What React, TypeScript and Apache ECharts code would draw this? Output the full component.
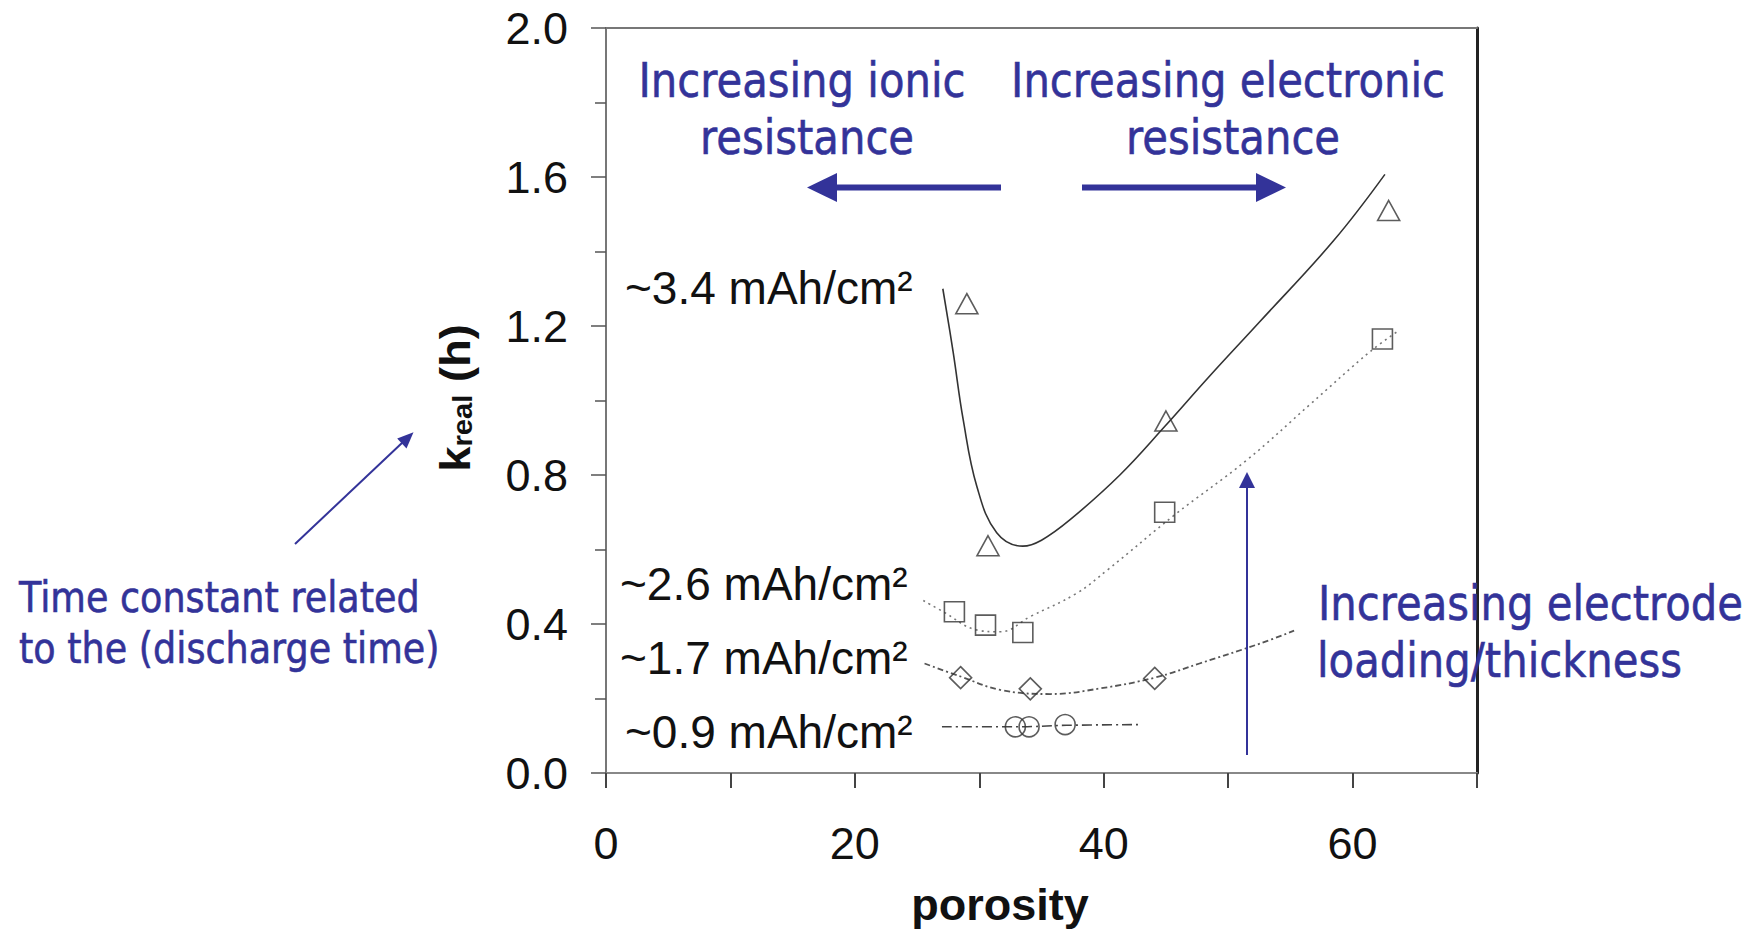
import React, { useEffect, useRef } from "react";
import * as echarts from "echarts";

// ---- tick labels ----
const xTickLabels = ["0", "20", "40", "60"];
const yTickLabels = ["0.0", "0.4", "0.8", "1.2", "1.6", "2.0"];

// ---- measured points (porosity, k_real) ----
const pts34: number[][] = [[29.0, 1.26], [30.7, 0.61], [45.0, 0.945], [62.9, 1.51]];
const pts26: number[][] = [[28.0, 0.433], [30.5, 0.397], [33.5, 0.377], [44.9, 0.70], [62.4, 1.165]];
const pts17: number[][] = [[28.5, 0.256], [34.1, 0.226], [44.1, 0.254]];
const pts09: number[][] = [[32.9, 0.124], [34.0, 0.124], [36.9, 0.13]];

// ---- fitted curves ----
const fit34: number[][] = [
  [27.07, 1.3], [27.9, 1.13], [28.7, 0.95], [29.8, 0.77], [31.4, 0.645], [33.5, 0.609],
  [35.0, 0.625], [37.3, 0.68], [41.3, 0.8], [44.9, 0.93], [48.5, 1.065], [52.5, 1.21], [58.5, 1.43], [62.6, 1.607],
];
const fit26: number[][] = [
  [25.5, 0.463], [27.1, 0.433], [29.8, 0.384], [31.7, 0.379], [34.1, 0.42], [37.8, 0.482],
  [40.3, 0.545], [45.7, 0.693], [51.5, 0.84], [56.6, 0.99], [61.4, 1.131], [63.6, 1.185],
];
const fit17: number[][] = [
  [25.6, 0.294], [28.5, 0.259], [31.7, 0.223], [35.7, 0.212], [39.7, 0.227], [44.1, 0.256],
  [47.7, 0.294], [52.6, 0.348], [55.3, 0.382],
];
const fit09: number[][] = [[27.0, 0.124], [33.0, 0.124], [37.0, 0.128], [42.8, 0.13]];

const loadingLabels = ["~3.4 mAh/cm²", "~2.6 mAh/cm²", "~1.7 mAh/cm²", "~0.9 mAh/cm²"];

const BLACK_FONT = "'Liberation Sans', Arial, Helvetica, sans-serif";
const BLUE_FONT = "'DejaVu Sans', Verdana, sans-serif";
const BLUE = "#333399";

function blueText(text: string, x: number, y: number, size: number, align: string) {
  return {
    type: "text",
    x,
    y,
    scaleX: 0.87,
    style: {
      text,
      fill: BLUE,
      stroke: BLUE,
      lineWidth: 0.6,
      font: `${size}px ${BLUE_FONT}`,
      textAlign: align,
      textVerticalAlign: "middle",
    },
    z: 100,
  };
}

function blackText(text: string, x: number, y: number) {
  return {
    type: "text",
    x,
    y,
    style: {
      text,
      fill: "#111",
      font: `46px ${BLACK_FONT}`,
      textAlign: "left",
      textVerticalAlign: "middle",
    },
    z: 100,
  };
}

export default function App() {
  const ref = useRef<HTMLDivElement>(null);

  useEffect(() => {
    if (!ref.current) return;
    const chart = echarts.init(ref.current, null, { renderer: "svg" });

    const markerStyle = { color: "rgba(0,0,0,0)", borderColor: "#333", borderWidth: 1.6 };

    const option: any = {
      animation: false,
      backgroundColor: "#fff",
      grid: { left: 606, top: 28, width: 871, height: 745 },
      xAxis: [
        {
          type: "value",
          min: 0,
          max: 70,
          interval: 10,
          position: "bottom",
          axisLine: { show: true, onZero: false, lineStyle: { color: "#888", width: 2 } },
          axisTick: { show: true, length: 15, lineStyle: { color: "#444", width: 2 } },
          axisLabel: {
            margin: 48,
            fontSize: 45,
            color: "#111",
            fontFamily: BLACK_FONT,
            formatter: (v: number) => (xTickLabels.includes(String(v)) ? String(v) : ""),
          },
          splitLine: { show: false },
        },
        {
          type: "value",
          min: 0,
          max: 70,
          position: "top",
          axisLine: { show: true, onZero: false, lineStyle: { color: "#777", width: 2 } },
          axisTick: { show: false },
          axisLabel: { show: false },
          splitLine: { show: false },
        },
      ],
      yAxis: [
        {
          type: "value",
          min: 0,
          max: 2,
          interval: 0.4,
          position: "left",
          axisLine: { show: true, onZero: false, lineStyle: { color: "#777", width: 2 } },
          axisTick: { show: true, length: 15, lineStyle: { color: "#555", width: 1.5 } },
          minorTick: { show: true, splitNumber: 2, length: 11, lineStyle: { color: "#555", width: 1.5 } },
          axisLabel: {
            margin: 38,
            fontSize: 45,
            color: "#111",
            fontFamily: BLACK_FONT,
            formatter: (v: number) => yTickLabels[Math.round(v / 0.4)] ?? "",
          },
          splitLine: { show: false },
          minorSplitLine: { show: false },
        },
        {
          type: "value",
          min: 0,
          max: 2,
          position: "right",
          axisLine: { show: true, onZero: false, lineStyle: { color: "#222", width: 3 } },
          axisTick: { show: false },
          axisLabel: { show: false },
          splitLine: { show: false },
        },
      ],
      series: [
        { type: "line", data: fit34, smooth: 0.4, showSymbol: false, lineStyle: { color: "#333", width: 1.6, type: "solid" }, z: 2 },
        { type: "line", data: fit26, smooth: 0.4, showSymbol: false, lineStyle: { color: "#777", width: 1.6, type: [2, 4] }, z: 2 },
        { type: "line", data: fit17, smooth: 0.4, showSymbol: false, lineStyle: { color: "#555", width: 1.8, type: [6, 3, 2, 3] }, z: 2 },
        { type: "line", data: fit09, smooth: 0.4, showSymbol: false, lineStyle: { color: "#444", width: 1.6, type: [10, 4, 2, 4] }, z: 2 },
        { type: "scatter", data: pts34, symbol: "triangle", symbolSize: [22, 20], itemStyle: markerStyle, z: 3 },
        { type: "scatter", data: pts26, symbol: "rect", symbolSize: [20, 20], itemStyle: markerStyle, z: 3 },
        { type: "scatter", data: pts17, symbol: "diamond", symbolSize: [22, 22], itemStyle: markerStyle, z: 3 },
        { type: "scatter", data: pts09, symbol: "circle", symbolSize: 20, itemStyle: markerStyle, z: 3 },
      ],
      graphic: [
        // loading labels
        blackText(loadingLabels[0], 625, 288),
        blackText(loadingLabels[1], 620, 584),
        blackText(loadingLabels[2], 620, 658),
        blackText(loadingLabels[3], 625, 732),
        // axis names
        {
          type: "text",
          x: 1000,
          y: 904,
          style: { text: "porosity", fill: "#111", font: `bold 45px ${BLACK_FONT}`, textAlign: "center", textVerticalAlign: "middle" },
        },
        {
          type: "text",
          x: 455,
          y: 398,
          rotation: Math.PI / 2,
          scaleX: 1.08,
          style: {
            text: "{a|k}{b|real}{a| (h)}",
            fill: "#111",
            textAlign: "center",
            textVerticalAlign: "middle",
            rich: {
              a: { fontSize: 42, fontWeight: "bold", fontFamily: BLACK_FONT, fill: "#111", lineHeight: 42, verticalAlign: "bottom" },
              b: { fontSize: 27, fontWeight: "bold", fontFamily: BLACK_FONT, fill: "#111", lineHeight: 22, verticalAlign: "bottom" },
            },
          },
        },
        // blue annotations
        blueText("Increasing ionic", 802, 80, 48, "center"),
        blueText("resistance", 807, 137, 48, "center"),
        blueText("Increasing electronic", 1228, 80, 48, "center"),
        blueText("resistance", 1233, 137, 48, "center"),
        blueText("Time constant related", 19, 597, 42, "left"),
        blueText("to the (discharge time)", 19, 648, 42, "left"),
        blueText("Increasing electrode", 1318, 603, 48, "left"),
        blueText("loading/thickness", 1317, 660, 48, "left"),
        // left arrow
        { type: "line", shape: { x1: 1001, y1: 187.5, x2: 834, y2: 187.5 }, style: { stroke: BLUE, lineWidth: 6 }, z: 100 },
        { type: "polygon", shape: { points: [[807, 187.5], [837, 173], [837, 202]] }, style: { fill: BLUE }, z: 100 },
        // right arrow
        { type: "line", shape: { x1: 1082, y1: 187.5, x2: 1259, y2: 187.5 }, style: { stroke: BLUE, lineWidth: 6 }, z: 100 },
        { type: "polygon", shape: { points: [[1286, 187.5], [1256, 173], [1256, 202]] }, style: { fill: BLUE }, z: 100 },
        // vertical arrow
        { type: "line", shape: { x1: 1247, y1: 755, x2: 1247, y2: 485 }, style: { stroke: BLUE, lineWidth: 2 }, z: 100 },
        { type: "polygon", shape: { points: [[1247, 472], [1239, 488], [1255, 488]] }, style: { fill: BLUE }, z: 100 },
        // diagonal arrow
        { type: "line", shape: { x1: 295, y1: 544, x2: 403, y2: 442 }, style: { stroke: BLUE, lineWidth: 2 }, z: 100 },
        { type: "polygon", shape: { points: [[413.5, 432.3], [406.5, 448.5], [397.2, 438.5]] }, style: { fill: BLUE }, z: 100 },
      ],
    };

    chart.setOption(option);
    return () => chart.dispose();
  }, []);

  return (
    <div
      ref={ref}
      style={{ position: "fixed", left: 0, top: 0, width: 1757, height: 929, background: "#fff" }}
    />
  );
}
